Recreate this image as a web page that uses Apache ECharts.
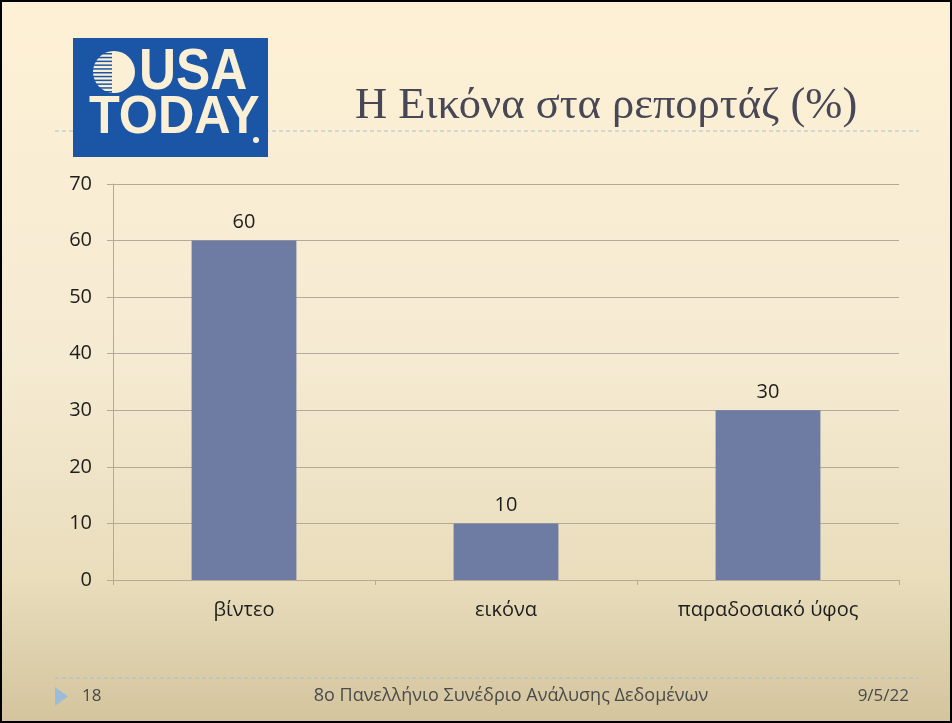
<!DOCTYPE html>
<html>
<head>
<meta charset="utf-8">
<script src="https://cdn.jsdelivr.net/npm/echarts@6/dist/echarts.min.js"></script>
<style>
html,body{margin:0;padding:0;background:#fff;}
#chart{width:952px;height:723px;}
</style>
</head>
<body>
<div id="chart"></div>
<script>
const categories = ['βίντεο', 'εικόνα', 'παραδοσιακό ύφος'];
const values = [60, 10, 30];
const yTicks = [0, 10, 20, 30, 40, 50, 60, 70];
const titleText = 'Η Εικόνα στα ρεπορτάζ (%)';
const footerNum = '18';
const footerCenter = '8ο Πανελλήνιο Συνέδριο Ανάλυσης Δεδομένων';
const footerDate = '9/5/22';

const chart = echarts.init(document.getElementById('chart'), null, {renderer: 'canvas'});

const cream = '#FBF0D6';
const logoBlue = '#1B56A6';
const sansFam = 'Open Sans, Noto Sans, sans-serif';
const globeLines = [];
for (let i = 0; i < 11; i++) {
  globeLines.push({
    type: 'rect', silent: true,
    shape: {x: 90, y: 53 + i * 3.8, width: 22, height: 1.5},
    style: {fill: logoBlue}, z: 12
  });
}

const graphics = [
  {type: 'rect', silent: true, z: -10,
   shape: {x: 0, y: 0, width: 952, height: 723},
   style: {fill: new echarts.graphic.LinearGradient(0, 0, 0, 1, [
     {offset: 0, color: '#FDF0D5'},
     {offset: 0.5, color: '#F5EBD2'},
     {offset: 0.8, color: '#E9DDBC'},
     {offset: 1, color: '#D3C49D'}
   ])}},
  // top dashed rule (behind logo)
  {type: 'line', silent: true, z: 4,
   shape: {x1: 55, y1: 131, x2: 919, y2: 131},
   style: {stroke: '#A8BFD0', lineWidth: 1, lineDash: [4, 3]}},
  // logo
  {type: 'rect', silent: true, z: 10,
   shape: {x: 73, y: 38, width: 195, height: 119},
   style: {fill: logoBlue}},
  {type: 'circle', silent: true, z: 11,
   shape: {cx: 114, cy: 72, r: 21},
   style: {fill: cream}},
  ...globeLines,
  {type: 'text', silent: true, z: 13, x: 139, y: 73, scaleX: 0.9,
   style: {text: 'USA', fontSize: 57, fontWeight: 'bold', fontFamily: 'Liberation Sans, Arial, sans-serif', fill: cream, textVerticalAlign: 'middle'}},
  {type: 'text', silent: true, z: 13, x: 89, y: 118, scaleX: 0.95,
   style: {text: 'TODAY', fontSize: 53, fontWeight: 'bold', fontFamily: 'Liberation Sans, Arial, sans-serif', fill: cream, textVerticalAlign: 'middle'}},
  {type: 'circle', silent: true, z: 13, shape: {cx: 256, cy: 140, r: 3}, style: {fill: cream}},
  // title
  {type: 'text', silent: true, z: 5, x: 355, y: 106,
   style: {text: titleText, fontSize: 44.5, fontFamily: 'Liberation Serif, DejaVu Serif, serif', fill: '#474756', textVerticalAlign: 'middle'}},
  // footer
  {type: 'line', silent: true, z: 4,
   shape: {x1: 55, y1: 678, x2: 919, y2: 678},
   style: {stroke: '#A8BFD0', lineWidth: 1, lineDash: [4, 3]}},
  {type: 'polygon', silent: true, z: 5,
   shape: {points: [[55, 687], [68, 696.5], [55, 706]]},
   style: {fill: '#9DBCD8'}},
  {type: 'text', silent: true, z: 5, x: 82, y: 696,
   style: {text: footerNum, fontSize: 17, fontFamily: sansFam, fill: '#4A4A4A', textVerticalAlign: 'middle'}},
  {type: 'text', silent: true, z: 5, x: 511, y: 696,
   style: {text: footerCenter, fontSize: 18, fontFamily: sansFam, fill: '#4A4A4A', textAlign: 'center', textVerticalAlign: 'middle'}},
  {type: 'text', silent: true, z: 5, x: 909, y: 696,
   style: {text: footerDate, fontSize: 17, fontFamily: sansFam, fill: '#4A4A4A', textAlign: 'right', textVerticalAlign: 'middle'}},
  // slide border
  {type: 'rect', silent: true, z: 50,
   shape: {x: 1, y: 1, width: 950, height: 721},
   style: {fill: 'none', stroke: '#000', lineWidth: 2}}
];

const option = {
  animation: false,
  backgroundColor: 'transparent',
  graphic: graphics,
  grid: {left: 113, right: 53, top: 184, bottom: 143, containLabel: false},
  xAxis: {
    type: 'category',
    data: categories,
    boundaryGap: true,
    axisLine: {show: true, lineStyle: {color: '#B3AA98', width: 1}},
    axisTick: {show: true, length: 5, lineStyle: {color: '#B3AA98'}},
    axisLabel: {margin: 20, fontSize: 20, color: '#1E1E1E', fontFamily: sansFam}
  },
  yAxis: {
    type: 'value',
    min: yTicks[0],
    max: yTicks[yTicks.length - 1],
    interval: yTicks[1] - yTicks[0],
    axisLine: {show: true, lineStyle: {color: '#B3AA98', width: 1}},
    axisTick: {show: true, length: 6, lineStyle: {color: '#B3AA98'}},
    axisLabel: {margin: 21, fontSize: 20, color: '#1E1E1E', fontFamily: sansFam,
      formatter: v => yTicks.includes(v) ? String(v) : ''},
    splitLine: {show: true, lineStyle: {color: '#B3AA98', width: 1}}
  },
  series: [{
    type: 'bar',
    data: values,
    barWidth: '40%',
    itemStyle: {color: '#6E7BA2'},
    label: {show: true, position: 'top', distance: 8, fontSize: 20, color: '#1E1E1E', fontFamily: sansFam}
  }]
};
chart.setOption(option);
</script>
</body>
</html>
